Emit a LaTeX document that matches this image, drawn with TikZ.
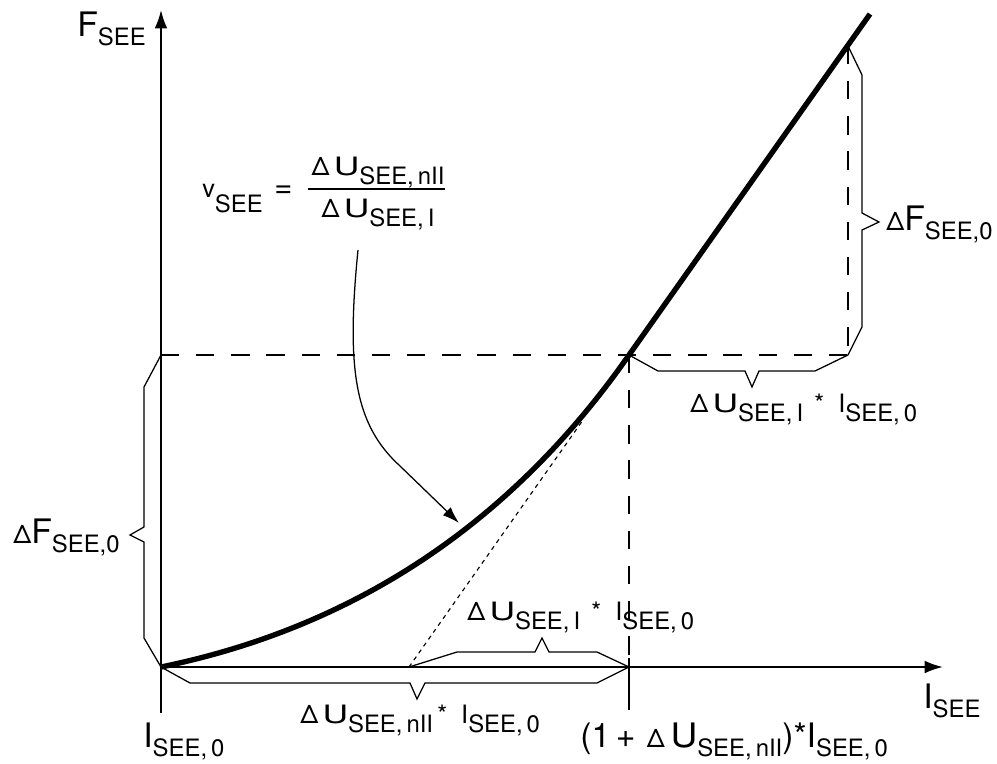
\documentclass[tikz,border=0pt]{standalone}
\usepackage{fontspec}
\usepackage{graphicx}
\setmainfont{TeX Gyre Heros}
\usetikzlibrary{arrows.meta}
% lowered subscript, delta and the wide U of the labels
\newcommand{\sbs}[2][17]{\raisebox{-7pt}{\fontsize{#1}{#1}\selectfont #2}}
\newcommand{\dlt}[1][18]{{\fontsize{#1}{#1}\selectfont Δ}}
\newcommand{\wU}[1][1.4]{\,\scalebox{#1}[1]{U}}

\begin{document}
\begin{tikzpicture}[x=0.025cm, y=-0.025cm,
    axis/.style={line width=1.4pt, -{Latex[length=13pt, width=9pt]}},
    guide/.style={line width=1pt, dash pattern=on 13pt off 12pt},
    bracket/.style={line width=0.9pt, line join=miter},
    tangent/.style={line width=0.8pt, dash pattern=on 3pt off 3pt},
    pointer/.style={line width=0.9pt, -{Latex[length=12pt, width=8pt]}},
    lbl/.style={inner sep=0pt, anchor=base west, font=\fontsize{18}{18}\selectfont},
    axlbl/.style={lbl, font=\fontsize{24}{24}\selectfont}]
  \useasboundingbox (0,0) rectangle (997,763);
  % key points
  \coordinate (O)  at (161,667);
  \coordinate (P)  at (629,355);
  \coordinate (X)  at (629,667);
  \coordinate (A)  at (409,667);
  \coordinate (T)  at (848,46);
  \coordinate (Q)  at (848,355);
  \coordinate (Y)  at (161,355);
  % axes
  \draw[axis] (161,713) -- (161,10);
  \draw[axis] (O) -- (943,667);
  % guide lines
  \draw[guide] (Y) -- (Q);
  \draw[guide] (T) -- (Q);
  \draw[guide] (P) -- (X);
  \draw[line width=1pt] (629,658) -- (629,710);
  % characteristic
  \draw[line width=3.8pt] (O) .. controls (341,630) and (503,535) .. (P) -- (870,14);
  \draw[tangent] (A) -- (583,420);
  % brackets
  \draw[bracket] (Y) -- (144,387) -- (144,527) -- (130,535) -- (144,542) -- (144,638) -- (O);
  \draw[bracket] (O) -- (190,683) -- (410,683) -- (417,699) -- (425,683) -- (597,683) -- (X);
  \draw[bracket] (A) -- (457,652) -- (535,652) -- (542,638) -- (549,652) -- (597,652) -- (X);
  \draw[bracket] (P) -- (658,371) -- (745,371) -- (752,387) -- (759,371) -- (815,371) -- (Q);
  \draw[bracket] (T) -- (862,75) -- (862,213) -- (879,222) -- (862,230) -- (862,327) -- (Q);
  % labels
  \node[axlbl] (Flbl) at (77,36) {F\sbs{SEE}};
  \node[axlbl] (Ilbl) at (923,708) {I\sbs{SEE}};
  \node[axlbl] (I0lbl) at (143,747) {I\sbs{SEE,\,0}};
  \node[axlbl] (Ixlbl) at (580,747) {(1\,+\hspace{8pt}\dlt\wU[1.1]\sbs{SEE,\,nII})*I\sbs{SEE,\,0}};
  \node[lbl] (dUnl) at (300,723) {\dlt\wU\sbs{SEE,\,nII}\hspace{3pt}*\hspace{10pt}I\sbs{SEE,\,0}};
  \node[lbl] (dUlo) at (467,620) {\dlt\wU\sbs{SEE,\,I}\hspace{8pt}*\hspace{10pt}I\sbs{SEE,\,0}};
  \node[lbl] (dUup) at (690,412) {\dlt\wU\sbs{SEE,\,I}\hspace{8pt}*\hspace{10pt}I\sbs{SEE,\,0}};
  \node[axlbl] (dFle) at (13,543) {\dlt F\sbs{SEE,0}};
  \node[axlbl] (dFri) at (886,230) {\dlt F\sbs{SEE,0}};
  % stiffness ratio
  \node[lbl] (vsee) at (202,197) {v\raisebox{-11pt}{\fontsize{17}{17}\selectfont SEE}};
  \node[lbl, font=\fontsize{22}{22}\selectfont] (eq) at (274,197) {=};
  \node[lbl, anchor=base] (num) at (378,175) {\dlt\wU\sbs{SEE,\,nII}};
  \node[lbl, anchor=base] (den) at (378,217) {\dlt\wU\sbs{SEE,\,I}};
  \draw[line width=1.1pt] (308,189) -- (445,189);
  \coordinate (vtail) at (358,250);
  \coordinate (vtip)  at (459,523);
  \draw[pointer] (vtail) .. controls (346,370) and (355,425) .. (400,466) -- (vtip);
\end{tikzpicture}
\end{document}
